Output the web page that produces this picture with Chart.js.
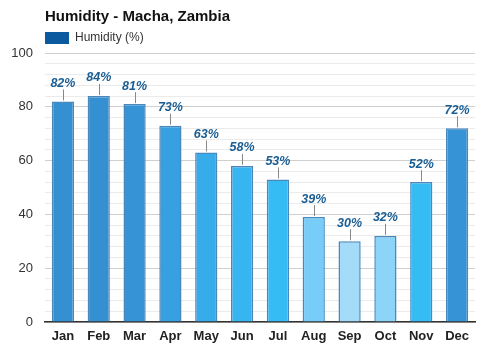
<!DOCTYPE html>
<html><head><meta charset="utf-8">
<script src="https://cdn.jsdelivr.net/npm/chart.js@4/dist/chart.umd.min.js"></script>
<style>html,body{margin:0;padding:0;background:#fff}#w{width:500px;height:350px}</style>
</head><body><div id="w"><canvas id="c" width="500" height="350"></canvas></div>
<script>
const categories = ["Jan","Feb","Mar","Apr","May","Jun","Jul","Aug","Sep","Oct","Nov","Dec"];
const humidity = [82,84,81,73,63,58,53,39,30,32,52,72];
const barColors = ["#3590d2","#3590d2","#3693d5","#36a0e0","#36adea","#36b5f0","#36bcf5","#77cdf8","#a3dbf9","#8cd4f8","#36bcf5","#3694d6"];
const yTicks = [0,20,40,60,80,100];
const titleText = "Humidity - Macha, Zambia";
const legendText = "Humidity (%)";
const FONT = "'Liberation Sans', Arial, sans-serif";

const overlay = {
  id: 'overlay',
  afterDatasetsDraw(chart) {
    const ctx = chart.ctx;
    const meta = chart.getDatasetMeta(0);
    ctx.save();
    meta.data.forEach((bar, i) => {
      const x = bar.x, y = bar.y;
      ctx.strokeStyle = '#888';
      ctx.lineWidth = 1;
      ctx.beginPath();
      ctx.moveTo(Math.round(x) + 0.5, y - 1);
      ctx.lineTo(Math.round(x) + 0.5, y - 12);
      ctx.stroke();
      ctx.fillStyle = '#1a5e94';
      ctx.font = 'italic bold 12.5px ' + FONT;
      ctx.textAlign = 'center';
      ctx.textBaseline = 'middle';
      ctx.fillText(humidity[i] + '%', x, y - 18);
    });
    // title
    ctx.fillStyle = '#111';
    ctx.font = 'bold 15px ' + FONT;
    ctx.textAlign = 'left';
    ctx.textBaseline = 'middle';
    ctx.fillText(titleText, 45, 17);
    // legend
    ctx.fillStyle = '#0b5aa0';
    ctx.fillRect(45, 32, 24, 12);
    ctx.fillStyle = '#333';
    ctx.font = '12px ' + FONT;
    ctx.fillText(legendText, 75, 38);
    ctx.restore();
  }
};

new Chart(document.getElementById('c'), {
  type: 'bar',
  data: {
    labels: categories,
    datasets: [{
      label: legendText,
      data: humidity,
      backgroundColor: barColors,
      borderColor: '#4a88bb',
      borderWidth: 1.5,
      barPercentage: 0.62,
      categoryPercentage: 1.0
    }]
  },
  options: {
    responsive: false,
    animation: false,
    devicePixelRatio: 1,
    layout: { padding: { left: 0, right: 25, top: 53, bottom: 0 } },
    plugins: { legend: { display: false }, title: { display: false }, tooltip: { enabled: false } },
    scales: {
      x: {
        grid: { display: false, drawTicks: false },
        border: { display: true, color: '#333', width: 1.5 },
        ticks: { color: '#222', font: { family: FONT, size: 13, weight: 'bold' }, padding: 7 },
        afterFit(s) { s.height = 28; }
      },
      y: {
        min: 0, max: 100,
        border: { display: false },
        grid: {
          drawTicks: false,
          color: c => (c.tick && yTicks.includes(c.tick.value)) ? '#cfcfcf' : '#ebebeb',
          lineWidth: 1
        },
        ticks: {
          stepSize: 4, autoSkip: false, padding: 12,
          color: '#333', font: { family: FONT, size: 13 },
          callback: v => yTicks.includes(v) ? String(v) : ''
        },
        afterFit(s) { s.width = 45; }
      }
    }
  },
  plugins: [overlay]
});
</script></body></html>
